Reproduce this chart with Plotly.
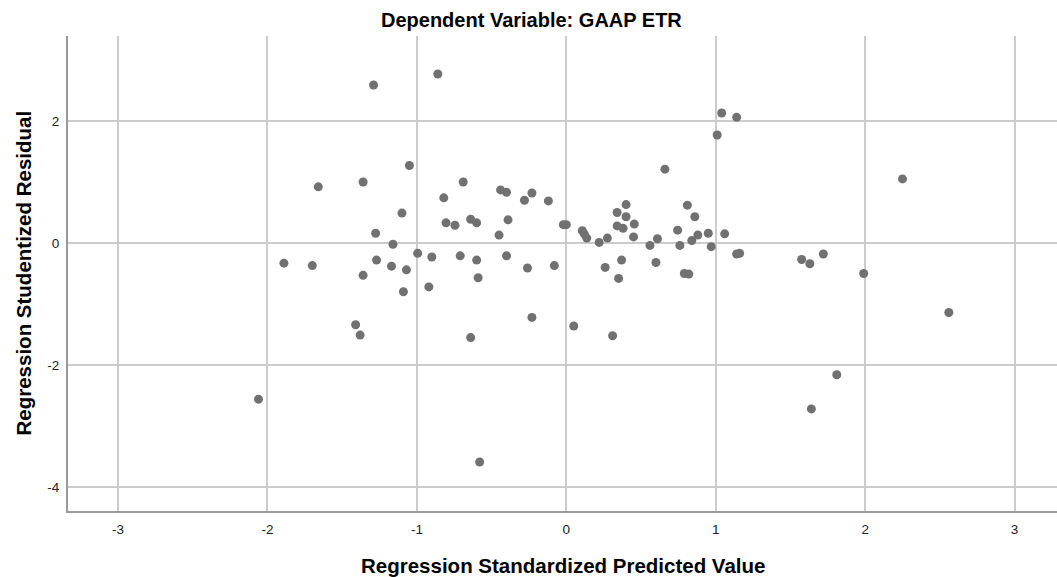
import plotly.graph_objects as go

# Regression Standardized Predicted Value
pred = [
    -2.06, -1.89, -1.70, -1.66, -1.41, -1.38, -1.36, -1.36, -1.29, -1.276,
    -1.27, -1.16, -1.17, -1.10, -1.09, -1.07, -1.05, -0.995, -0.92, -0.90,
    -0.86, -0.82, -0.805, -0.745, -0.71, -0.69, -0.64, -0.60, -0.60, -0.59,
    -0.64, -0.58, -0.45, -0.44, -0.40, -0.39, -0.40, -0.28, -0.23, -0.12,
    -0.26, -0.23, -0.08, -0.02, 0.00, 0.05, 0.107, 0.12, 0.137, 0.22,
    0.275, 0.26, 0.31, 0.34, 0.40, 0.40, 0.455, 0.34, 0.38, 0.45,
    0.37, 0.35, 0.56, 0.61, 0.60, 0.66, 0.745, 0.81, 0.86, 0.76,
    0.84, 0.88, 0.95, 0.97, 1.06, 0.79, 0.82, 1.01, 1.04, 1.14,
    1.14, 1.16, 1.575, 1.63, 1.72, 1.99, 2.25, 2.56, 1.81, 1.64,
]

# Regression Studentized Residual
resid = [
    -2.56, -0.33, -0.37, 0.92, -1.34, -1.51, 1.00, -0.53, 2.59, 0.16,
    -0.28, -0.02, -0.38, 0.49, -0.80, -0.44, 1.27, -0.17, -0.72, -0.23,
    2.77, 0.74, 0.33, 0.29, -0.21, 1.00, 0.39, 0.33, -0.28, -0.57,
    -1.55, -3.59, 0.13, 0.87, 0.83, 0.38, -0.21, 0.70, 0.82, 0.69,
    -0.41, -1.22, -0.37, 0.30, 0.30, -1.36, 0.20, 0.15, 0.08, 0.01,
    0.08, -0.40, -1.52, 0.50, 0.63, 0.43, 0.31, 0.28, 0.24, 0.10,
    -0.28, -0.58, -0.04, 0.07, -0.32, 1.21, 0.21, 0.62, 0.43, -0.04,
    0.04, 0.13, 0.16, -0.06, 0.15, -0.50, -0.51, 1.77, 2.13, 2.06,
    -0.18, -0.17, -0.27, -0.34, -0.18, -0.50, 1.05, -1.14, -2.16, -2.72,
]

x_ticks = [-3, -2, -1, 0, 1, 2, 3]
y_ticks = [-4, -2, 0, 2]

title_text = "Dependent Variable: GAAP ETR"
x_title = "Regression Standardized Predicted Value"
y_title = "Regression Studentized Residual"

FONT = "Liberation Sans, Arial, sans-serif"

fig = go.Figure()
fig.add_trace(go.Scatter(
    x=pred, y=resid, mode="markers",
    marker=dict(size=9, color="#717171", line=dict(width=0)),
    showlegend=False, hoverinfo="x+y",
))

grid = "#cccccc"
axisline = "#9a9a9a"

fig.update_layout(
    width=1057, height=577,
    margin=dict(l=68, r=0, t=36, b=66),
    paper_bgcolor="white", plot_bgcolor="white",
    font=dict(family=FONT, color="#222222"),
    xaxis=dict(
        range=[-3.335, 3.284], tickvals=x_ticks, ticktext=[str(v) for v in x_ticks],
        showgrid=True, gridcolor=grid, gridwidth=1.5,
        zeroline=True, zerolinecolor=grid, zerolinewidth=1.5,
        showline=True, linecolor=axisline, linewidth=2,
        ticks="", ticklabelstandoff=5,
        tickfont=dict(size=13.5, family=FONT, color="#222222"),
    ),
    yaxis=dict(
        range=[-4.393, 3.393], tickvals=y_ticks, ticktext=[str(v) for v in y_ticks],
        showgrid=True, gridcolor=grid, gridwidth=1.5,
        zeroline=True, zerolinecolor=grid, zerolinewidth=1.5,
        showline=True, linecolor=axisline, linewidth=2,
        ticks="", ticklabelstandoff=4,
        tickfont=dict(size=13.5, family=FONT, color="#222222"),
    ),
    annotations=[
        dict(text=title_text, xref="paper", yref="paper", x=0.469, y=1,
             xanchor="center", yanchor="middle", yshift=16, showarrow=False,
             font=dict(size=20, family=FONT, color="#000000", weight="bold")),
        dict(text=x_title, xref="paper", yref="paper", x=0.5, y=0,
             xanchor="center", yanchor="middle", yshift=-54, showarrow=False,
             font=dict(size=20.5, family=FONT, color="#000000", weight="bold")),
        dict(text=y_title, xref="paper", yref="paper", x=0, y=0.5,
             xanchor="center", yanchor="middle", xshift=-45, textangle=-90,
             showarrow=False,
             font=dict(size=20.5, family=FONT, color="#000000", weight="bold")),
    ],
)

fig.write_html("out.html")
